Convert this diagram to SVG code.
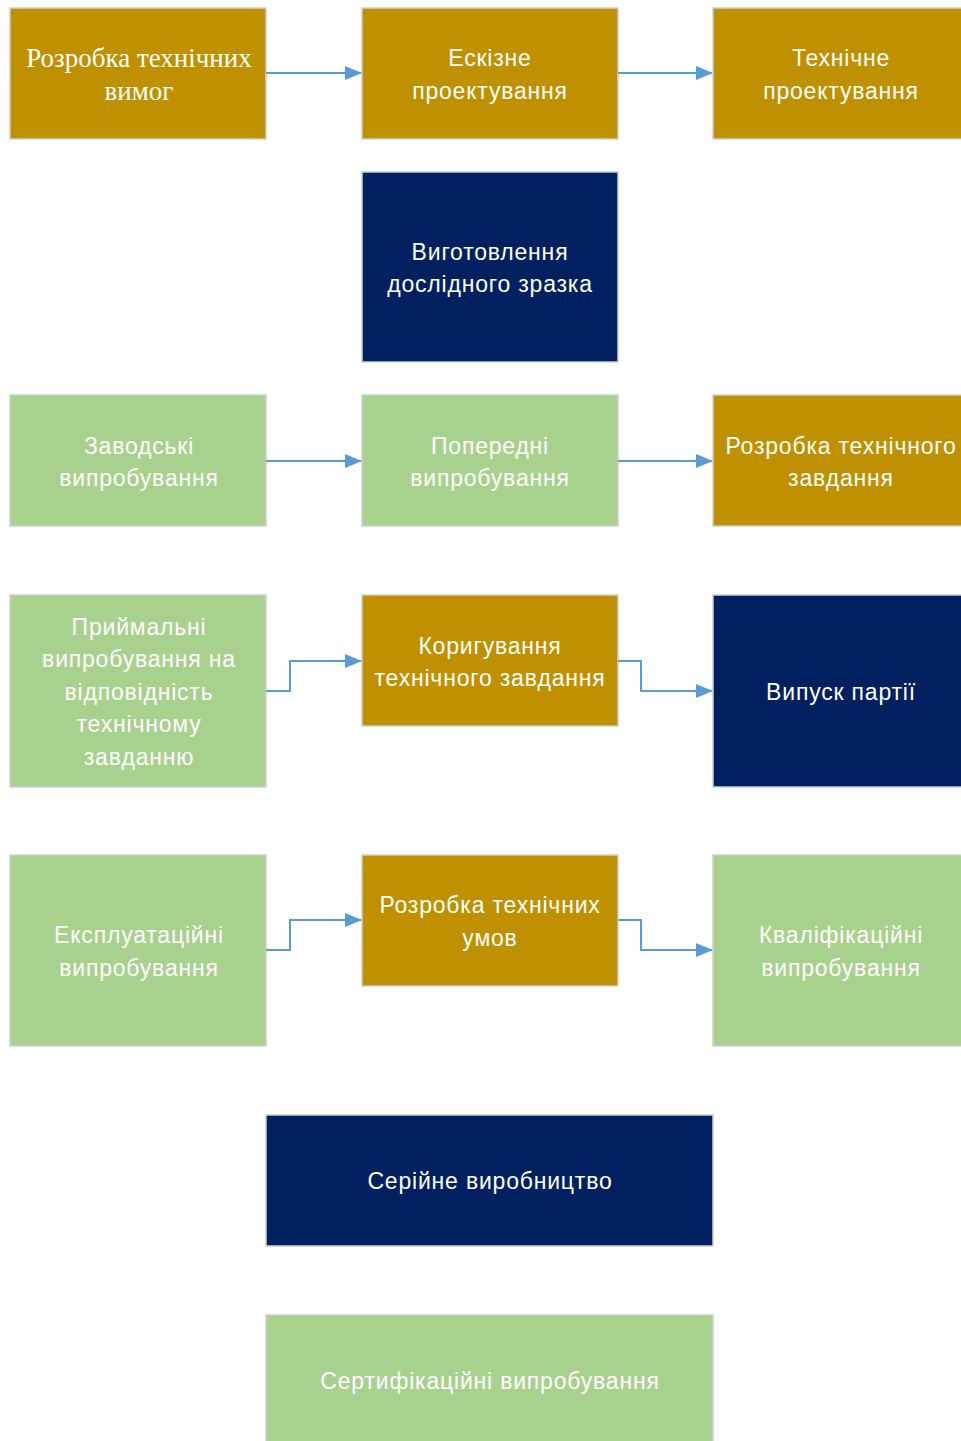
<svg xmlns="http://www.w3.org/2000/svg" width="961" height="1441" viewBox="0 0 961 1441">
<style>
rect{stroke:#d0d0d0;stroke-width:1.5}
.g{fill:#BF9000}.n{fill:#002060}.l{fill:#A9D18E}
text{fill:#fff;font-family:"Liberation Sans",Arial,sans-serif;font-size:23px;text-anchor:middle;letter-spacing:0.8px}
.s{font-family:"Liberation Serif","Times New Roman",serif;font-size:27px;letter-spacing:0}
.c path{fill:none;stroke:#5B9BD5;stroke-width:2;marker-end:url(#a)}
</style>
<defs><marker id="a" markerWidth="18" markerHeight="16" refX="16" refY="7" orient="auto" markerUnits="userSpaceOnUse"><path d="M0,0L17,7L0,14z" fill="#5B9BD5" stroke="none"/></marker></defs>
<g id="n1"><rect class="g" x="10" y="8" width="256" height="131"/><text class="s" x="139" y="67">Розробка технічних</text><text class="s" x="139" y="100">вимог</text></g>
<g id="n2"><rect class="g" x="362" y="8" width="256" height="131"/><text x="490" y="66">Ескізне</text><text x="490" y="99">проектування</text></g>
<g id="n3"><rect class="g" x="713" y="8" width="260" height="131"/><text x="841" y="66">Технічне</text><text x="841" y="99">проектування</text></g>
<g id="n4"><rect class="n" x="362" y="172" width="256" height="190"/><text x="490" y="260">Виготовлення</text><text x="490" y="292">дослідного зразка</text></g>
<g id="n5"><rect class="l" x="10" y="395" width="256" height="131"/><text x="139" y="454">Заводські</text><text x="139" y="486">випробування</text></g>
<g id="n6"><rect class="l" x="362" y="395" width="256" height="131"/><text x="490" y="454">Попередні</text><text x="490" y="486">випробування</text></g>
<g id="n7"><rect class="g" x="713" y="395" width="260" height="131"/><text x="841" y="454">Розробка технічного</text><text x="841" y="486">завдання</text></g>
<g id="n8"><rect class="l" x="10" y="595" width="256" height="192"/><text x="139" y="635">Приймальні</text><text x="139" y="667">випробування на</text><text x="139" y="700">відповідність</text><text x="139" y="732">технічному</text><text x="139" y="765">завданню</text></g>
<g id="n9"><rect class="g" x="362" y="595" width="256" height="131"/><text x="490" y="654">Коригування</text><text x="490" y="686">технічного завдання</text></g>
<g id="n10"><rect class="n" x="713" y="595" width="260" height="192"/><text x="841" y="700">Випуск партії</text></g>
<g id="n11"><rect class="l" x="10" y="855" width="256" height="191"/><text x="139" y="943">Експлуатаційні</text><text x="139" y="976">випробування</text></g>
<g id="n12"><rect class="g" x="362" y="855" width="256" height="131"/><text x="490" y="913">Розробка технічних</text><text x="490" y="946">умов</text></g>
<g id="n13"><rect class="l" x="713" y="855" width="260" height="191"/><text x="841" y="943">Кваліфікаційні</text><text x="841" y="976">випробування</text></g>
<g id="n14"><rect class="n" x="266" y="1115" width="447" height="131"/><text x="490" y="1189">Серійне виробництво</text></g>
<g id="n15"><rect class="l" x="266" y="1315" width="447" height="140"/><text x="490" y="1389">Сертифікаційні випробування</text></g>
<g class="c" id="connectors">
<path d="M266,73H361"/>
<path d="M618,73H712"/>
<path d="M266,461H361"/>
<path d="M618,461H712"/>
<path d="M266,691H290V661H361"/>
<path d="M618,661H641V691H712"/>
<path d="M266,950H290V920H361"/>
<path d="M618,920H641V950H712"/>
</g>
</svg>
